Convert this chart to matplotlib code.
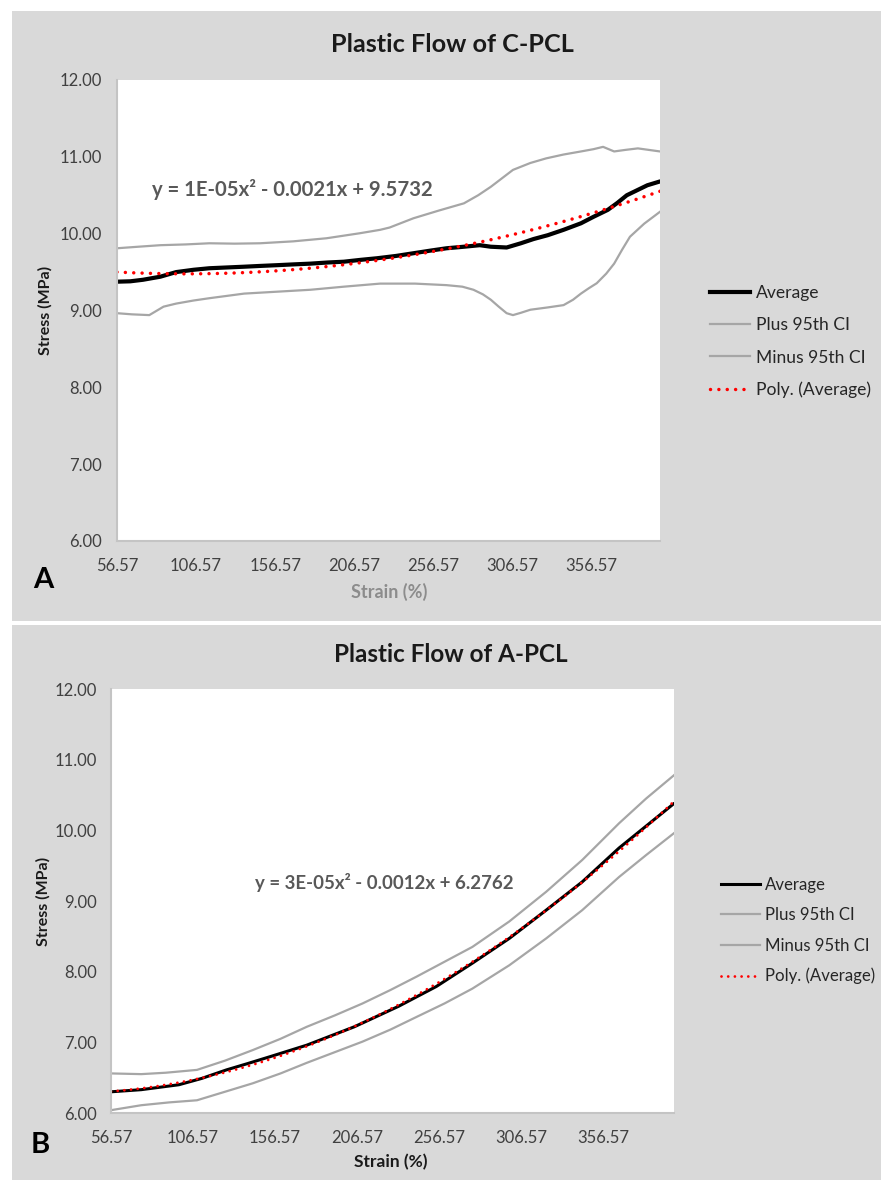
import numpy as np
import matplotlib
matplotlib.use("Agg")
import matplotlib.pyplot as plt
from matplotlib.patches import Rectangle
from matplotlib.lines import Line2D

plt.rcParams['font.family'] = ['Lato', 'DejaVu Sans']

# ---- C-PCL (panel A) ----
c_avg_x = [56.57, 65, 73, 84, 94, 105, 115, 126, 137, 147, 158, 168, 179, 190, 200,
           211, 221, 233, 244, 255, 265, 276, 286, 293, 303, 312, 320, 329, 339, 350,
           358, 367, 373, 379, 386, 392, 400]
c_avg_y = [9.375, 9.38, 9.40, 9.44, 9.50, 9.53, 9.55, 9.56, 9.57, 9.58, 9.59, 9.60, 9.61, 9.625, 9.635,
           9.66, 9.68, 9.71, 9.745, 9.78, 9.81, 9.83, 9.85, 9.83, 9.82, 9.875, 9.93, 9.98, 10.05, 10.135,
           10.22, 10.31, 10.40, 10.50, 10.57, 10.63, 10.68]

c_up_x = [56.57, 70, 84, 100, 115, 131, 147, 168, 189, 210, 223, 229, 244, 260, 276, 285,
          293, 300, 307, 318, 328, 339, 350, 358, 364, 371, 378, 386, 393, 400]
c_up_y = [9.81, 9.83, 9.85, 9.86, 9.875, 9.87, 9.875, 9.90, 9.94, 10.005, 10.05, 10.08, 10.20, 10.30, 10.395, 10.50,
          10.61, 10.72, 10.83, 10.92, 10.98, 11.03, 11.07, 11.10, 11.13, 11.07, 11.09, 11.11, 11.09, 11.07]

c_lo_x = [56.57, 66, 77, 86, 94, 105, 115, 126, 137, 158, 179, 200, 223, 245, 265, 275, 282,
          288, 293, 298, 303, 307, 312, 318, 329, 339, 345, 350, 355, 360, 366, 371, 376, 381, 390, 400]
c_lo_y = [8.965, 8.95, 8.94, 9.05, 9.09, 9.13, 9.16, 9.19, 9.22, 9.245, 9.27, 9.31, 9.35, 9.35, 9.33, 9.31, 9.27,
          9.21, 9.14, 9.05, 8.965, 8.94, 8.97, 9.01, 9.04, 9.07, 9.14, 9.22, 9.29, 9.355, 9.48, 9.61, 9.79, 9.96, 10.13, 10.285]

# ---- A-PCL (panel B) ----
a_avg_x = [56.57, 75, 98, 112, 127, 140, 154, 176, 205, 232, 255, 277, 299.5, 322, 344, 366.5, 383, 400]
a_avg_y = [6.30, 6.33, 6.40, 6.49, 6.61, 6.70, 6.80, 6.96, 7.22, 7.51, 7.79, 8.12, 8.47, 8.87, 9.27, 9.75, 10.06, 10.38]

a_up_x = [56.57, 75, 90, 109, 126, 143, 160, 176, 193, 210, 227, 243, 260, 277, 299.5, 322, 344, 366.5, 383, 400]
a_up_y = [6.56, 6.55, 6.57, 6.61, 6.74, 6.89, 7.05, 7.22, 7.38, 7.55, 7.74, 7.93, 8.14, 8.35, 8.71, 9.13, 9.58, 10.10, 10.45, 10.78]

a_lo_x = [56.57, 75, 92, 109, 126, 143, 160, 176, 193, 210, 227, 243, 260, 277, 299.5, 322, 344, 366.5, 383, 400]
a_lo_y = [6.04, 6.11, 6.15, 6.18, 6.30, 6.42, 6.56, 6.71, 6.86, 7.01, 7.18, 7.36, 7.55, 7.76, 8.09, 8.47, 8.87, 9.34, 9.65, 9.96]

labels = ["Average", "Plus 95th CI", "Minus 95th CI", "Poly. (Average)"]

W, H = 881, 1180
fig = plt.figure(figsize=(W / 100, H / 100), dpi=100, facecolor="white")

def fx(px):
    return px / W

def fy(py):
    return 1 - py / H

# gray chart-area backgrounds
fig.add_artist(Rectangle((fx(12), fy(621)), fx(869), (621 - 11) / H, transform=fig.transFigure,
                         facecolor="#d9d9d9", edgecolor="none", zorder=-5))
fig.add_artist(Rectangle((fx(12), 0), fx(869), (H - 625) / H, transform=fig.transFigure,
                         facecolor="#d9d9d9", edgecolor="none", zorder=-5))

GRAY = "#a6a6a6"
DOT = (0, (0.01, 2.4))


def panel(box, ax_x, avg_y, up_x, up_y, lo_x, lo_y, avg_lw, dot_lw, tick_pad_y, tick_pad_x):
    ax = fig.add_axes(box)
    ax.set_facecolor("white")
    ax.plot(up_x, up_y, color=GRAY, lw=1.6)
    ax.plot(lo_x, lo_y, color=GRAY, lw=1.6)
    ax.plot(ax_x, avg_y, color="black", lw=avg_lw, solid_capstyle="round")
    coef = np.polyfit(ax_x, avg_y, 2)
    xs = np.linspace(56.57, 400, 200)
    ax.plot(xs, np.polyval(coef, xs), color="#ff0000", lw=dot_lw, linestyle=DOT,
            dash_capstyle="round")
    ax.set_xlim(56.57, 400)
    ax.set_ylim(6, 12)
    ax.set_xticks(np.arange(56.57, 400, 50))
    ax.set_xticklabels(["%.2f" % v for v in np.arange(56.57, 400, 50)])
    ax.set_yticks(np.arange(6, 12.01, 1))
    ax.set_yticklabels(["%.2f" % v for v in np.arange(6, 12.01, 1)])
    ax.tick_params(length=0, labelsize=12, colors="#404040")
    ax.tick_params(axis="y", pad=tick_pad_y)
    ax.tick_params(axis="x", pad=tick_pad_x)
    for s in ["top", "right"]:
        ax.spines[s].set_visible(False)
    for s in ["left", "bottom"]:
        ax.spines[s].set_color("#c4c4c4")
        ax.spines[s].set_linewidth(1.5)
    handles = [Line2D([], [], color="black", lw=avg_lw),
               Line2D([], [], color=GRAY, lw=1.6),
               Line2D([], [], color=GRAY, lw=1.6),
               Line2D([], [], color="#ff0000", lw=dot_lw, linestyle=DOT, dash_capstyle="round")]
    return ax, handles


# panel A
axA, hA = panel([fx(117), fy(541), fx(660 - 117), (541 - 80) / H], c_avg_x, c_avg_y,
                c_up_x, c_up_y, c_lo_x, c_lo_y, 3.0, 2.5, 11, 12)
axA.legend(hA, labels, loc="upper left", bbox_to_anchor=(fx(710), fy(285)),
           bbox_transform=fig.transFigure, frameon=False, borderpad=0, borderaxespad=0,
           handlelength=2.3, handletextpad=0.3, labelspacing=0.93, fontsize=12.6,
           labelcolor="#262626")
fig.text(fx(452), fy(44), "Plastic Flow of C-PCL", ha="center", va="center",
         fontsize=18.2, fontweight="bold", color="#1a1a1a")
fig.text(fx(152), fy(189), "y = 1E-05x² - 0.0021x + 9.5732", ha="left", va="center",
         fontsize=14.6, fontweight="bold", color="#595959")
fig.text(fx(45), fy(310), "Stress (MPa)", rotation=90, ha="center", va="center",
         fontsize=11.5, fontweight="bold", color="#1a1a1a")
fig.text(fx(389), fy(592), "Strain (%)", ha="center", va="center",
         fontsize=13, fontweight="bold", color="#8c8c8c")
fig.text(fx(43), fy(580), "A", ha="center", va="center", fontsize=21,
         fontweight="bold", color="black")

# panel B
axB, hB = panel([fx(111), fy(1113), fx(674 - 111), (1113 - 689) / H], a_avg_x, a_avg_y,
                a_up_x, a_up_y, a_lo_x, a_lo_y, 2.2, 2.0, 10, 12)
axB.legend(hB, labels, loc="upper left", bbox_to_anchor=(fx(721), fy(877)),
           bbox_transform=fig.transFigure, frameon=False, borderpad=0, borderaxespad=0,
           handlelength=2.3, handletextpad=0.3, labelspacing=0.85, fontsize=12.1,
           labelcolor="#262626")
fig.text(fx(451), fy(655), "Plastic Flow of A-PCL", ha="center", va="center",
         fontsize=17.5, fontweight="bold", color="#1a1a1a")
fig.text(fx(255), fy(883), "y = 3E-05x² - 0.0012x + 6.2762", ha="left", va="center",
         fontsize=13.4, fontweight="bold", color="#595959")
fig.text(fx(43), fy(901), "Stress (MPa)", rotation=90, ha="center", va="center",
         fontsize=11.5, fontweight="bold", color="#1a1a1a")
fig.text(fx(391), fy(1162), "Strain (%)", ha="center", va="center",
         fontsize=12.5, fontweight="bold", color="#1a1a1a")
fig.text(fx(40), fy(1145), "B", ha="center", va="center", fontsize=21,
         fontweight="bold", color="black")

fig.savefig("out.png", dpi=100, facecolor="white")
